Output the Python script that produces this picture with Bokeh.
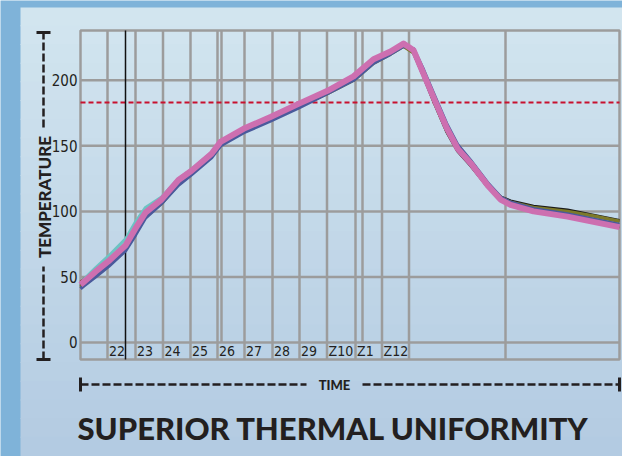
from bokeh.plotting import figure
from bokeh.models import (Range1d, FixedTicker, Label, Whisker, TeeHead,
                          BoxAnnotation, ColumnDataSource)
from bokeh.core.properties import value
from bokeh.embed import file_html
from bokeh.resources import INLINE

# ---------------- data ----------------
time_s = [0, 3, 15, 28, 45, 55, 65, 81, 98, 111, 131, 140, 163, 190, 218, 247,
          273, 293, 310, 323, 333, 343, 353, 366, 377, 390, 407, 420, 430, 453,
          487, 513, 539]
probe_red = [46, 48, 55, 63, 75, 87, 99, 109, 123, 131, 144, 152, 162, 171, 181, 191,
             202, 215, 221, 227, 222, 205, 187, 164, 148, 137, 120, 110, 105, 100,
             96, 92, 88]
probe_teal = [45, 48, 57, 66, 79, 92, 103, 111, 125, 132, 145, 153, 163, 172, 182, 192,
              203, 216, 222, 227, 224, 207, 189, 166, 150, 139, 121, 110, 106, 101,
              97, 93, 89]
probe_black = [43, 45, 52, 60, 72, 85, 97, 107, 122, 130, 142, 151, 161, 170, 180, 190,
               201, 214, 221, 227, 221, 203, 184, 161, 146, 135, 119, 111, 108, 104,
               101, 97, 93]
probe_olive = [42, 44, 51, 59, 71, 84, 96, 106, 121, 129, 142, 151, 161, 170, 180, 190,
               200, 213, 220, 226, 221, 204, 185, 162, 147, 136, 119, 111, 107, 103,
               100, 96.5, 92.5]
probe_blue = [41, 43, 50, 58, 70, 82, 95, 106, 120, 128, 141, 150, 160, 169, 179, 190,
              200, 213, 220, 226, 224, 208, 190, 167, 151, 139, 122, 111, 107, 102,
              98, 94, 90]
probe_pink = [44, 46, 54, 62, 74, 87, 99, 109, 124, 131, 144, 153, 163, 172, 182, 192,
              203, 216, 222, 228, 223, 205, 187, 164, 148, 137, 120, 109, 105, 100,
              96, 92, 88]

zone_lines = [27, 55, 82.5, 110, 137, 164, 192, 219, 246.5, 275, 301.5, 328.5, 425]
sub_lines = [141, 282]
zone_labels = ["22", "23", "24", "25", "26", "27", "28", "29", "Z10", "Z1", "Z12"]
y_ticks = [0, 50, 100, 150, 200]
marker_time = 45
limit_temp = 183
t_min, t_max = 0, 539
temp_min, temp_max = -13, 238

# ---------------- layout (pixels) ----------------
W, H = 622, 456
BOX_L, BOX_R, BOX_T, BOX_B = 80, 619, 30, 359     # plot box on the canvas
ppx = (BOX_R - BOX_L) / (t_max - t_min)
ppy = (BOX_B - BOX_T) / (temp_max - temp_min)
x_lo = t_min - BOX_L / ppx
x_hi = t_max + (W - BOX_R) / ppx
y_lo = temp_min - (H - BOX_B) / ppy
y_hi = temp_max + BOX_T / ppy

def sy(px_from_top):
    return H - px_from_top

# ---------------- styles ----------------
GRID = "#9c9c9c"
INK = "#231f20"
OUTER = "#7fb3d9"
TOP = (0xd3, 0xe6, 0xf0)
BOT = (0xb3, 0xcb, 0xe2)
NARROW = "DejaVu Sans Condensed"
BOLD = "Lato Black"

p = figure(width=W, height=H,
           x_range=Range1d(x_lo, x_hi), y_range=Range1d(y_lo, y_hi),
           output_backend="svg", toolbar_location=None, min_border=0)
p.border_fill_color = OUTER
p.background_fill_color = None
p.outline_line_color = None
p.grid.visible = False
p.xaxis.visible = False

# gradient panel + outer strips
PANEL_L, PANEL_T = 20, 7
p.add_layout(BoxAnnotation(left=-2, right=W + 2, top=H + 2, bottom=-2,
                           left_units="screen", right_units="screen",
                           top_units="screen", bottom_units="screen",
                           fill_color=OUTER, fill_alpha=1, line_color=None,
                           level="underlay"))
n = 24
band = (H - PANEL_T) / n
for i in range(n):
    f = (i + 0.5) / n
    c = "#%02x%02x%02x" % tuple(int(TOP[k] + (BOT[k] - TOP[k]) * f) for k in range(3))
    top_px = PANEL_T + i * band
    bot_px = PANEL_T + (i + 1) * band
    p.add_layout(BoxAnnotation(left=PANEL_L, right=W + 2,
                               top=sy(top_px) - (0 if i == 0 else -1),
                               bottom=sy(bot_px) - (2 if i == n - 1 else 0),
                               left_units="screen", right_units="screen",
                               top_units="screen", bottom_units="screen",
                               fill_color=c, fill_alpha=1, line_color=None,
                               level="underlay"))

# grid
p.segment(x0=t_min, x1=t_max, y0=y_ticks, y1=y_ticks, line_color=GRID, line_width=2.5)
p.segment(x0=zone_lines, x1=zone_lines, y0=temp_min, y1=temp_max,
          line_color=GRID, line_width=2.5)
p.segment(x0=sub_lines, x1=sub_lines, y0=0, y1=temp_max,
          line_color=GRID, line_width=2.5)
p.quad(left=t_min, right=t_max, bottom=temp_min, top=temp_max,
       fill_color=None, line_color=GRID, line_width=2.5)

# y axis pinned to the plot box
p.yaxis.fixed_location = t_min
p.yaxis.ticker = FixedTicker(ticks=y_ticks)
p.yaxis.axis_line_color = None
p.yaxis.major_tick_line_color = None
p.yaxis.minor_tick_line_color = None
p.yaxis.major_tick_in = 0
p.yaxis.major_tick_out = 0
p.yaxis.major_label_text_font = NARROW
p.yaxis.major_label_text_font_size = "15px"
p.yaxis.major_label_text_color = INK
p.yaxis.major_label_standoff = 3

# zone labels
p.text(x=zone_lines[:len(zone_labels)], y=temp_min / 2, text=zone_labels,
       text_font=value(NARROW), text_font_size="14px", text_color=INK,
       text_baseline="middle", text_align="left", x_offset=1.5)

# reference lines
p.segment(x0=t_min, x1=t_max, y0=limit_temp, y1=limit_temp,
          line_color="#c8102e", line_width=2, line_dash="5 3")
p.segment(x0=marker_time, x1=marker_time, y0=temp_min, y1=temp_max,
          line_color="#111111", line_width=1.5)

# probe curves
for ys, col, w in [(probe_red, "#9e1b24", 3), (probe_teal, "#6cc3c3", 3),
                   (probe_black, "#1a1a1a", 3), (probe_olive, "#7d7a2a", 3.5),
                   (probe_blue, "#4a5a9c", 3.5), (probe_pink, "#cd6fb0", 6)]:
    p.line(time_s, ys, line_color=col, line_width=w, line_join="round")

# axis-label brackets
def bracket(dim, base, lo, hi, head_lo, head_hi):
    w = Whisker(source=ColumnDataSource(dict(b=[base], lo=[lo], hi=[hi])),
                base="b", lower="lo", upper="hi", dimension=dim,
                base_units="screen", lower_units="screen", upper_units="screen",
                line_color=INK, line_width=2.5, line_dash="8 3",
                lower_head=TeeHead(size=14, line_width=3, line_color=INK) if head_lo else None,
                upper_head=TeeHead(size=14, line_width=3, line_color=INK) if head_hi else None)
    p.add_layout(w)

TIME_Y = sy(384)
TEMP_X = 43
bracket("width", TIME_Y, BOX_L, 306, True, False)
bracket("width", TIME_Y, 362, BOX_R, False, True)
bracket("height", TEMP_X, sy(359), sy(266), True, False)
bracket("height", TEMP_X, sy(127), sy(32), False, True)

p.add_layout(Label(x=(306 + 362) / 2, y=TIME_Y, x_units="screen", y_units="screen",
                   text="TIME", text_font=BOLD, text_font_style="bold",
                   text_font_size="13px", text_color=INK,
                   text_align="center", text_baseline="middle"))
p.add_layout(Label(x=TEMP_X + 1, y=sy((127 + 266) / 2), x_units="screen", y_units="screen",
                   text="TEMPERATURE", text_font=BOLD, text_font_style="bold",
                   text_font_size="17px", text_color=INK, text_align="center",
                   text_baseline="middle", angle=90, angle_units="deg"))
p.add_layout(Label(x=77, y=sy(427), x_units="screen", y_units="screen",
                   text="SUPERIOR THERMAL UNIFORMITY",
                   text_font=BOLD, text_font_style="bold", text_font_size="31px",
                   text_color=INK, text_align="left", text_baseline="middle"))

open("out.html", "w").write(file_html(p, INLINE))
